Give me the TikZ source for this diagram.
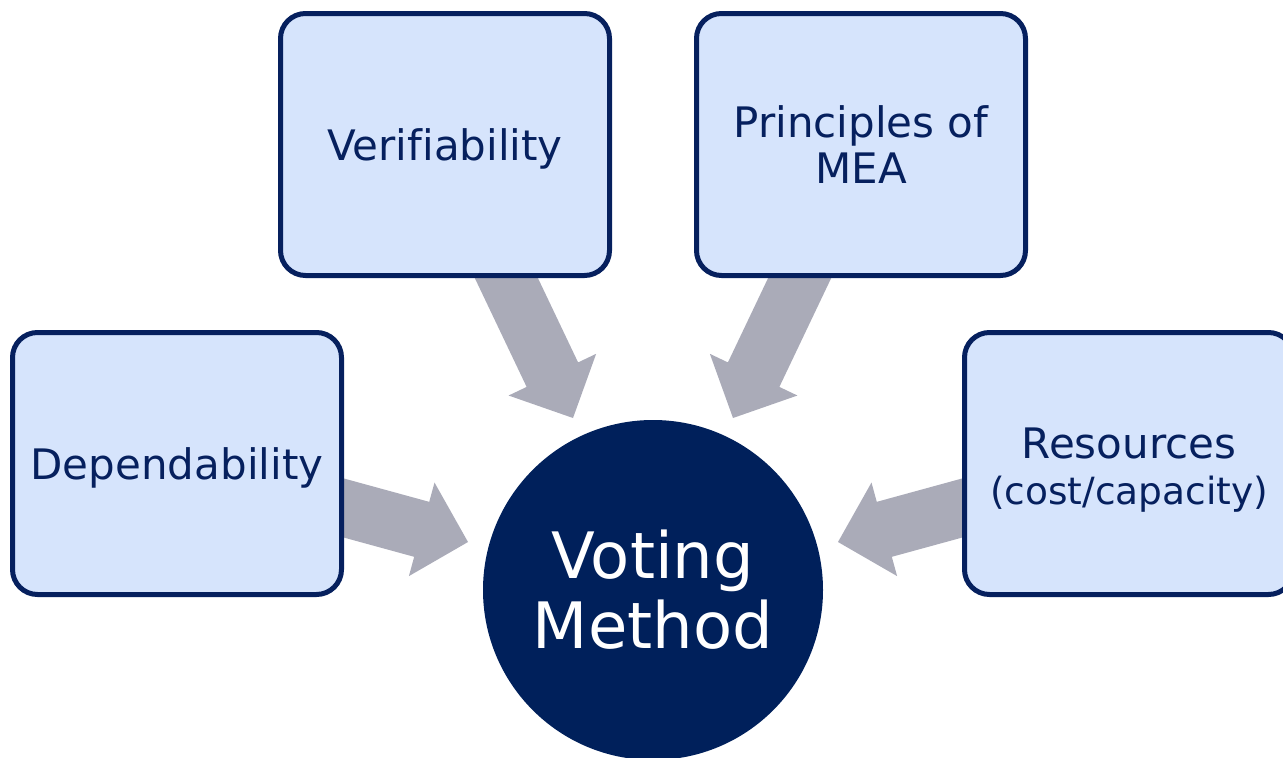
\documentclass[tikz,border=0pt]{standalone}
\usepackage{fontspec}
\setmainfont[Ligatures=NoCommon]{DejaVu Sans}
\usetikzlibrary{calc}
\definecolor{navy}{HTML}{06205E}
\definecolor{boxfill}{HTML}{D6E4FC}
\definecolor{arrowgray}{HTML}{AAABB8}
\definecolor{circfill}{HTML}{00205B}
\newcommand\blockarrow[2]{%
  \path ($(#2)!48pt!(#1)$) coordinate (hb);
  \fill[arrowgray] ($(#1)!28.5pt!90:(#2)$) -- ($(hb)!28.5pt!90:(#2)$) -- ($(hb)!48.5pt!90:(#2)$) -- (#2)
    -- ($(hb)!48.5pt!-90:(#2)$) -- ($(hb)!28.5pt!-90:(#2)$) -- ($(#1)!28.5pt!-90:(#2)$) -- cycle;
}
\newcommand\pushdown[1]{\rule{0pt}{#1}}
\tikzset{
  factor/.style={draw=navy, line width=5pt, fill=boxfill, rounded corners=25pt,
    minimum width=329pt, minimum height=262pt, align=center, text=navy,
    font=\fontsize{42}{46}\selectfont, inner sep=0pt},
  core/.style={circle, fill=circfill, minimum size=340pt, inner sep=0pt, align=center,
    text=white, font=\fontsize{64}{70}\selectfont}
}
\begin{document}
\begin{tikzpicture}[x=1pt,y=-1pt]
\useasboundingbox (0,0) rectangle (1283,758);
% arrow anchor coordinates
\coordinate (vs) at (493,250);
\coordinate (vt) at (573,418);
\coordinate (ps) at (813,250);
\coordinate (pt) at (733,418);
\coordinate (ds) at (300,496);
\coordinate (dt) at (468,542);
\coordinate (rs) at (1006,496);
\coordinate (rt) at (838,542);
\blockarrow{vs}{vt}
\blockarrow{ps}{pt}
\blockarrow{ds}{dt}
\blockarrow{rs}{rt}
% boxes
\node[factor] (ver) at (445,144.5) {\pushdown{40pt}Verifiability};
\node[factor] (pri) at (861,144.5) {Principles of\\MEA};
\node[factor] (dep) at (177,463.5) {\pushdown{40pt}Dependability};
\node[factor] (res) at (1129,463.5) {\pushdown{43pt}Resources\\{\fontsize{37.5}{45}\selectfont (cost/capacity)}};
\node[core] (vm) at (653,590) {Voting\\Method};
\end{tikzpicture}
\end{document}
